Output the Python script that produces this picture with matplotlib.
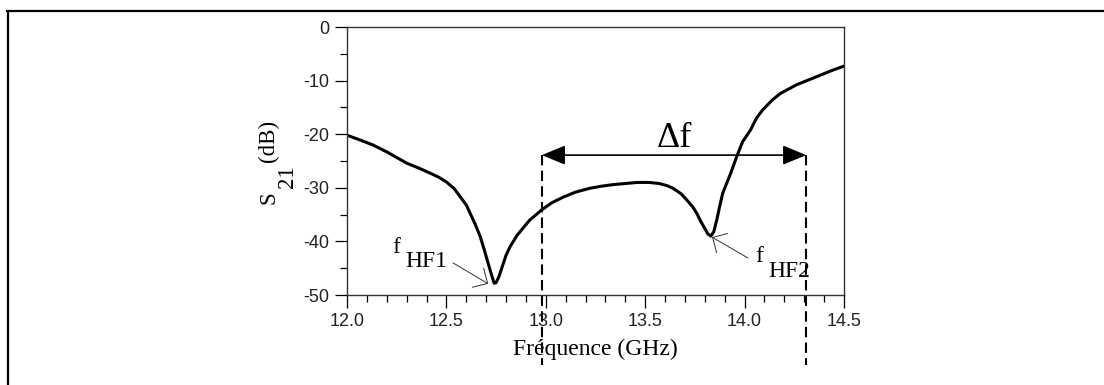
import matplotlib
matplotlib.use("Agg")
import matplotlib.pyplot as plt
from matplotlib.lines import Line2D
from matplotlib.ticker import MultipleLocator

plt.rcParams['axes.unicode_minus'] = False

# S21 curve (GHz, dB)
freq = [12.00, 12.06, 12.13, 12.20, 12.30, 12.36, 12.42, 12.46, 12.50, 12.54,
        12.57, 12.60, 12.62, 12.645, 12.67, 12.69, 12.71, 12.73, 12.74, 12.75,
        12.765, 12.78, 12.80, 12.82, 12.855, 12.89, 12.92, 12.98, 13.03, 13.09,
        13.15, 13.22, 13.28, 13.34, 13.40, 13.46, 13.52, 13.57, 13.61, 13.64,
        13.68, 13.71, 13.74, 13.76, 13.78, 13.80, 13.815, 13.83, 13.845, 13.86,
        13.875, 13.89, 13.93, 13.96, 13.99, 14.03, 14.06, 14.09, 14.14, 14.18,
        14.21, 14.26, 14.32, 14.38, 14.44, 14.50]
s21 = [-20.2, -21.0, -22.0, -23.3, -25.4, -26.3, -27.3, -28.0, -28.9, -30.2,
       -31.7, -33.2, -34.8, -36.8, -39.1, -41.5, -44.1, -46.6, -47.8, -47.7,
       -46.5, -44.8, -42.6, -41.0, -38.9, -37.3, -36.0, -34.1, -32.8, -31.7,
       -30.8, -30.1, -29.7, -29.4, -29.2, -29.0, -29.0, -29.2, -29.6, -30.1,
       -31.1, -32.3, -33.6, -34.8, -36.3, -37.6, -38.6, -39.0, -38.2, -36.0,
       -33.4, -31.0, -27.3, -24.2, -21.4, -19.2, -17.0, -15.5, -13.6, -12.4,
       -11.8, -10.8, -9.9, -9.0, -8.1, -7.3]

x_ticks = [12.0, 12.5, 13.0, 13.5, 14.0, 14.5]
x_tick_labels = ["12.0", "12.5", "13.0", "13.5", "14.0", "14.5"]
y_ticks = [-50, -40, -30, -20, -10, 0]
y_tick_labels = ["-50", "-40", "-30", "-20", "-10", "0"]

# delta f span and the two notches
df_start, df_stop, df_level = 12.98, 14.31, -23.9
hf1 = (12.71, -47.9)
hf2 = (13.836, -39.2)

W, H = 1104, 385
fig = plt.figure(figsize=(W / 100, H / 100), dpi=100)
ax = fig.add_axes([347 / W, 1 - 295 / H, (844 - 347) / W, (295 - 27) / H])

ax.plot(freq, s21, color='k', lw=2.2, solid_joinstyle='round')

ax.set_xlim(12.0, 14.5)
ax.set_ylim(-50, 0)
ax.set_xticks(x_ticks)
ax.set_xticklabels(x_tick_labels)
ax.set_yticks(y_ticks)
ax.set_yticklabels(y_tick_labels)
ax.xaxis.set_minor_locator(MultipleLocator(0.1))
ax.yaxis.set_minor_locator(MultipleLocator(5))
ax.tick_params(which='major', length=9, width=0.9, direction='out', pad=4,
               labelsize=13, colors='k')
ax.tick_params(which='minor', length=5, width=0.9, direction='out')
for lab in ax.get_xticklabels() + ax.get_yticklabels():
    lab.set_fontfamily('Liberation Sans')
    lab.set_color('#222222')
for sp in ax.spines.values():
    sp.set_linewidth(1.0)
    sp.set_color('#333333')

ax.set_xlabel("Fréquence (GHz)", fontfamily='Liberation Serif', fontsize=17, labelpad=6)

# y label: S, 21 lowered, (dB)
fig.text(269 / W, 1 - 198 / H, "S", rotation=90, ha='center', va='center',
         fontfamily='Liberation Serif', fontsize=16.5)
fig.text(288 / W, 1 - 177 / H, "21", rotation=90, ha='center', va='center',
         fontfamily='Liberation Serif', fontsize=16.5)
fig.text(268 / W, 1 - 141 / H, "(dB)", rotation=90, ha='center', va='center',
         fontfamily='Liberation Serif', fontsize=16.5)

# dashed markers and double arrow
for xv in (df_start, df_stop):
    ax.plot([xv, xv], [df_level, -63.1], color='k', lw=1.5,
            linestyle=(0, (5, 2.5)), clip_on=False)
ax.annotate('', xy=(df_stop, df_level), xytext=(df_start, df_level),
            arrowprops=dict(arrowstyle='<|-|>,head_length=1.45,head_width=0.6',
                            mutation_scale=10, lw=1.2, color='k',
                            shrinkA=0, shrinkB=0))
ax.text(13.559, -22.4, "Δf", fontfamily='Liberation Serif', fontsize=26,
        va='baseline', ha='left')

# notch labels
ax.text(12.226, -42.2, "f", fontfamily='Liberation Serif', fontsize=17, va='baseline')
ax.text(12.292, -44.8, "HF1", fontfamily='Liberation Serif', fontsize=17, va='baseline')
ax.annotate('', xy=hf1, xytext=(12.533, -44.0),
            arrowprops=dict(arrowstyle='->,head_length=0.8,head_width=0.8',
                            mutation_scale=10, lw=0.7, color='#333333',
                            shrinkA=0, shrinkB=0))
ax.text(14.052, -43.8, "f", fontfamily='Liberation Serif', fontsize=17, va='baseline')
ax.text(14.118, -46.6, "HF2", fontfamily='Liberation Serif', fontsize=17, va='baseline')
ax.annotate('', xy=hf2, xytext=(14.017, -43.1),
            arrowprops=dict(arrowstyle='->,head_length=0.8,head_width=0.8',
                            mutation_scale=10, lw=0.7, color='#333333',
                            shrinkA=0, shrinkB=0))

# outer frame (top and left edges only)
fig.add_artist(Line2D([7 / W, 1.0], [1 - 11 / H, 1 - 11 / H],
                      transform=fig.transFigure, color='k', lw=1.6))
fig.add_artist(Line2D([8 / W, 8 / W], [1 - 11 / H, 0.0],
                      transform=fig.transFigure, color='k', lw=1.6))

fig.savefig("out.png", dpi=100, facecolor='white')
